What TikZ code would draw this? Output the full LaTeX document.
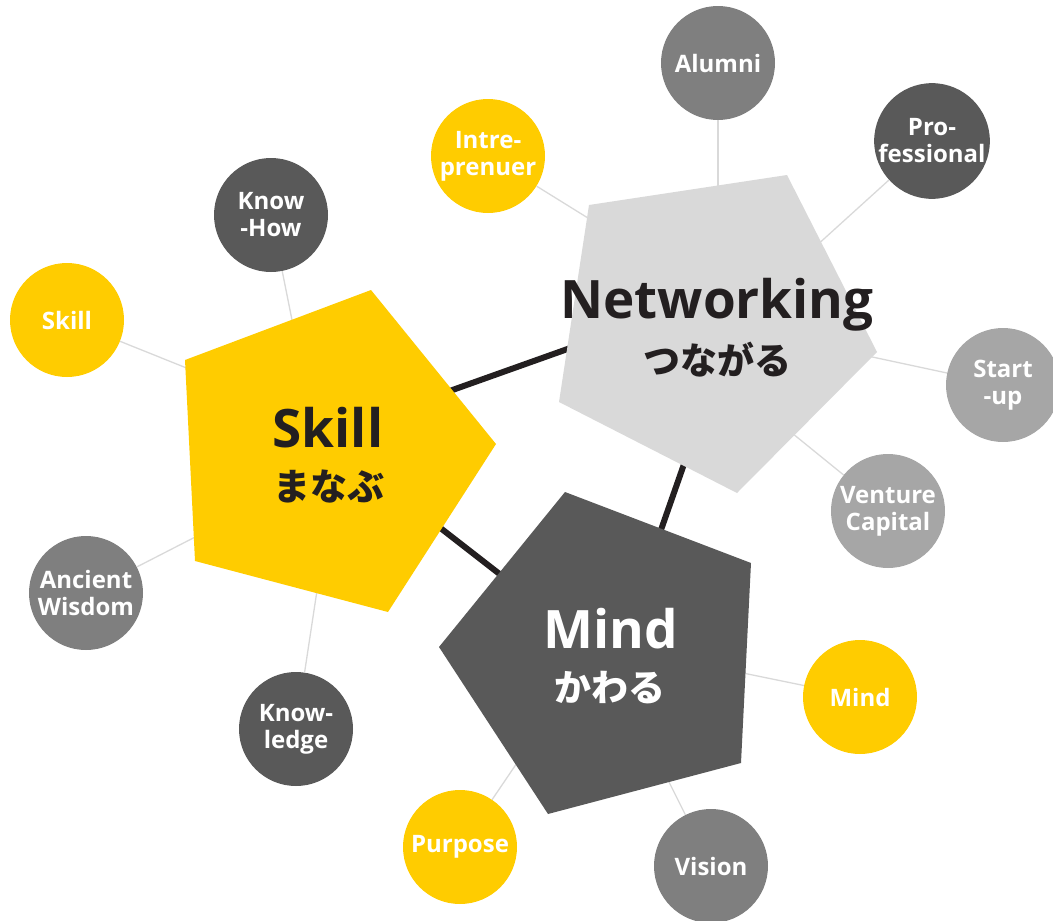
\documentclass[tikz,border=0pt]{standalone}
\usepackage{fontspec}
\setmainfont{Open Sans}
\newfontfamily\jp{Noto Sans CJK JP}
\definecolor{yel}{HTML}{FFCC00}
\definecolor{lgray}{HTML}{D9D9D9}
\definecolor{dgray}{HTML}{595959}
\definecolor{mgray}{HTML}{7F7F7F}
\definecolor{sgray}{HTML}{A6A6A6}
\definecolor{ink}{HTML}{231F20}
\begin{document}
\begin{tikzpicture}[x=1pt,y=-1pt,
  bub/.style={circle, minimum size=114pt, inner sep=0pt, text=white,
    font=\bfseries\fontsize{24}{27}\selectfont, align=center},
  thinln/.style={draw=lgray, line width=1.3pt},
  thickln/.style={draw=ink, line width=6pt},
  bigtxt/.style={font=\bfseries\fontsize{53}{60}\selectfont, anchor=base, inner sep=0pt},
  jptxt/.style={font=\jp\bfseries\fontsize{37}{40}\selectfont, inner sep=0pt}]
\useasboundingbox (0,0) rectangle (1053,921);

% connector end points inside pentagons
\coordinate (eAl) at (718,195);
\coordinate (ePr) at (815,247);
\coordinate (eIn) at (596,223);
\coordinate (eKH) at (294,330);
\coordinate (eSk) at (194,371);
\coordinate (eAW) at (203,533);
\coordinate (eKn) at (318,584);
\coordinate (eSU) at (863,355);
\coordinate (eVC) at (787,429);
\coordinate (eMi) at (738,672);
\coordinate (ePu) at (521,757);
\coordinate (eVi) at (665,774);
% thick link ends
\coordinate (sn1) at (430,398);
\coordinate (sn2) at (590,341);
\coordinate (nm1) at (690,447);
\coordinate (nm2) at (655,547);
\coordinate (sm1) at (425,516);
\coordinate (sm2) at (515,586);

% circles
\node[bub, fill=mgray] (al) at (718,63) {Alumni};
\node[bub, fill=dgray] (pr) at (932,141) {Pro-\\fessional};
\node[bub, fill=yel] (in) at (488,156) {Intre-\\prenuer};
\node[bub, fill=dgray] (kh) at (271,215) {Know\\-How};
\node[bub, fill=yel] (sk) at (67,320) {Skill};
\node[bub, fill=sgray] (su) at (1003,385) {Start\\-up};
\node[bub, fill=sgray] (vc) at (888,511) {Venture\\Capital};
\node[bub, fill=mgray] (aw) at (86,593) {Ancient\\Wisdom};
\node[bub, fill=dgray] (kn) at (296,729) {Know-\\ledge};
\node[bub, fill=yel] (mi) at (860,697) {Mind};
\node[bub, fill=yel] (pu) at (460,847) {Purpose};
\node[bub, fill=mgray] (vi) at (711,866) {Vision};

% thin connectors
\draw[thinln] (al) -- (eAl);
\draw[thinln] (pr) -- (ePr);
\draw[thinln] (in) -- (eIn);
\draw[thinln] (kh) -- (eKH);
\draw[thinln] (sk) -- (eSk);
\draw[thinln] (aw) -- (eAW);
\draw[thinln] (kn) -- (eKn);
\draw[thinln] (su) -- (eSU);
\draw[thinln] (vc) -- (eVC);
\draw[thinln] (mi) -- (eMi);
\draw[thinln] (pu) -- (ePu);
\draw[thinln] (vi) -- (eVi);

% thick links
\draw[thickln] (sn1) -- (sn2);
\draw[thickln] (nm1) -- (nm2);
\draw[thickln] (sm1) -- (sm2);

% pentagons
\fill[yel] (371,290) -- (496,444) -- (388,612) -- (195,561) -- (185,360) -- cycle;
\fill[lgray] (589,205) -- (787,175) -- (877,352) -- (737,493) -- (559,402) -- cycle;
\fill[dgray] (565,492) -- (751,563) -- (741,763) -- (548,814) -- (439,647) -- cycle;

% pentagon texts
\node[bigtxt, text=ink] (tSk) at (328,447) {Skill};
\node[jptxt, text=ink] (jSk) at (329,487) {まなぶ};
\node[bigtxt, text=ink] (tNw) at (717,318) {Networking};
\node[jptxt, text=ink] (jNw) at (717,360) {つながる};
\node[bigtxt, text=white] (tMi) at (611,648) {Mind};
\node[jptxt, text=white] (jMi) at (610,688) {かわる};
\end{tikzpicture}
\end{document}
